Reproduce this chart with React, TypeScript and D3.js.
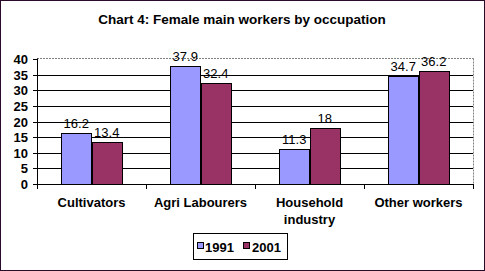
import React from "react";
import * as d3 from "d3";

const categories = ["Cultivators", "Agri Labourers", "Household industry", "Other workers"];
const categoryLines = [["Cultivators"], ["Agri Labourers"], ["Household", "industry"], ["Other workers"]];
const series = ["1991", "2001"];
const values1991 = [16.2, 37.9, 11.3, 34.7];
const values2001 = [13.4, 32.4, 18, 36.2];
const yTicks = [0, 5, 10, 15, 20, 25, 30, 35, 40];
const colors = ["#9999FF", "#993366"];

const W = 485;
const H = 271;
const plot = { left: 37, right: 473, top: 59, bottom: 184 };
const FONT = "Arial, 'Liberation Sans', sans-serif";

export default function App() {
  const x0 = d3.scaleBand<string>().domain(categories).range([plot.left, plot.right]).padding(0);
  const x1 = d3
    .scaleBand<string>()
    .domain(series)
    .range([0, x0.bandwidth()])
    .paddingInner(0)
    .paddingOuter(0.79);
  const y = d3.scaleLinear().domain([0, 40]).range([plot.bottom, plot.top]);
  const data = [values1991, values2001];

  return (
    <svg
      width={W}
      height={H}
      style={{ position: "absolute", left: 0, top: 0, fontFamily: FONT }}
    >
      <rect x={0.5} y={0.5} width={W - 1} height={H - 1} fill="#FFFFFF" stroke="#2A0A2A" strokeWidth={1} />
      <text x={242} y={24} textAnchor="middle" fontSize={13.5} fontWeight="bold" fill="#000">
        Chart 4: Female main workers by occupation
      </text>
      {/* plot border top/right dotted */}
      <line x1={plot.left} x2={plot.right + 0.5} y1={plot.top - 0.5} y2={plot.top - 0.5} stroke="#808080" strokeDasharray="2,1" />
      <line x1={plot.right + 0.5} x2={plot.right + 0.5} y1={plot.top - 0.5} y2={plot.bottom} stroke="#808080" strokeDasharray="2,1" />
      {yTicks.slice(1, -1).map((t) => (
        <line key={t} x1={plot.left} x2={plot.right} y1={Math.round(y(t)) + 0.5} y2={Math.round(y(t)) + 0.5} stroke="#000" />
      ))}
      {/* y axis */}
      <line x1={plot.left + 0.5} x2={plot.left + 0.5} y1={plot.top - 0.5} y2={plot.bottom + 0.5} stroke="#000" />
      {yTicks.map((t) => (
        <g key={t}>
          <line x1={plot.left - 4} x2={plot.left} y1={Math.round(y(t)) + 0.5} y2={Math.round(y(t)) + 0.5} stroke="#000" />
          <text x={plot.left - 9} y={y(t) + 5} textAnchor="end" fontSize={13} fontWeight="bold">
            {t}
          </text>
        </g>
      ))}
      {/* x axis */}
      <line x1={plot.left} x2={plot.right + 1} y1={plot.bottom + 0.5} y2={plot.bottom + 0.5} stroke="#000" />
      {categories.map((c) => (
        <line key={"t" + c} x1={Math.round(x0(c)!) + 0.5} x2={Math.round(x0(c)!) + 0.5} y1={plot.bottom} y2={plot.bottom + 5} stroke="#000" />
      ))}
      <line x1={plot.right + 0.5} x2={plot.right + 0.5} y1={plot.bottom} y2={plot.bottom + 5} stroke="#000" />
      {/* bars */}
      {categories.map((c, i) =>
        series.map((s, j) => {
          const v = data[j][i];
          const bx = x0(c)! + x1(s)!;
          return (
            <g key={c + s}>
              <rect
                x={Math.round(bx) + 0.5}
                y={Math.round(y(v)) + 0.5}
                width={Math.round(x1.bandwidth())}
                height={Math.round(y(0)) - Math.round(y(v))}
                fill={colors[j]}
                stroke="#000"
              />
              <text x={bx + x1.bandwidth() / 2} y={y(v) - 5} textAnchor="middle" fontSize={13} fill="#000">
                {v}
              </text>
            </g>
          );
        })
      )}
      {/* category labels */}
      {categories.map((c, i) => (
        <text key={"l" + c} x={x0(c)! + x0.bandwidth() / 2} y={207} textAnchor="middle" fontSize={13} fontWeight="bold">
          {categoryLines[i].map((ln, k) => (
            <tspan key={k} x={x0(c)! + x0.bandwidth() / 2} dy={k === 0 ? 0 : 17}>
              {ln}
            </tspan>
          ))}
        </text>
      ))}
      {/* legend */}
      <rect x={193.5} y={233.5} width={94} height={26} fill="#fff" stroke="#000" />
      {series.map((s, j) => (
        <g key={"lg" + s}>
          <rect x={197.5 + j * 46} y={242.5} width={6} height={6} fill={colors[j]} stroke="#000" />
          <text x={205 + j * 47} y={251.5} fontSize={13} fontWeight="bold">
            {s}
          </text>
        </g>
      ))}
    </svg>
  );
}
